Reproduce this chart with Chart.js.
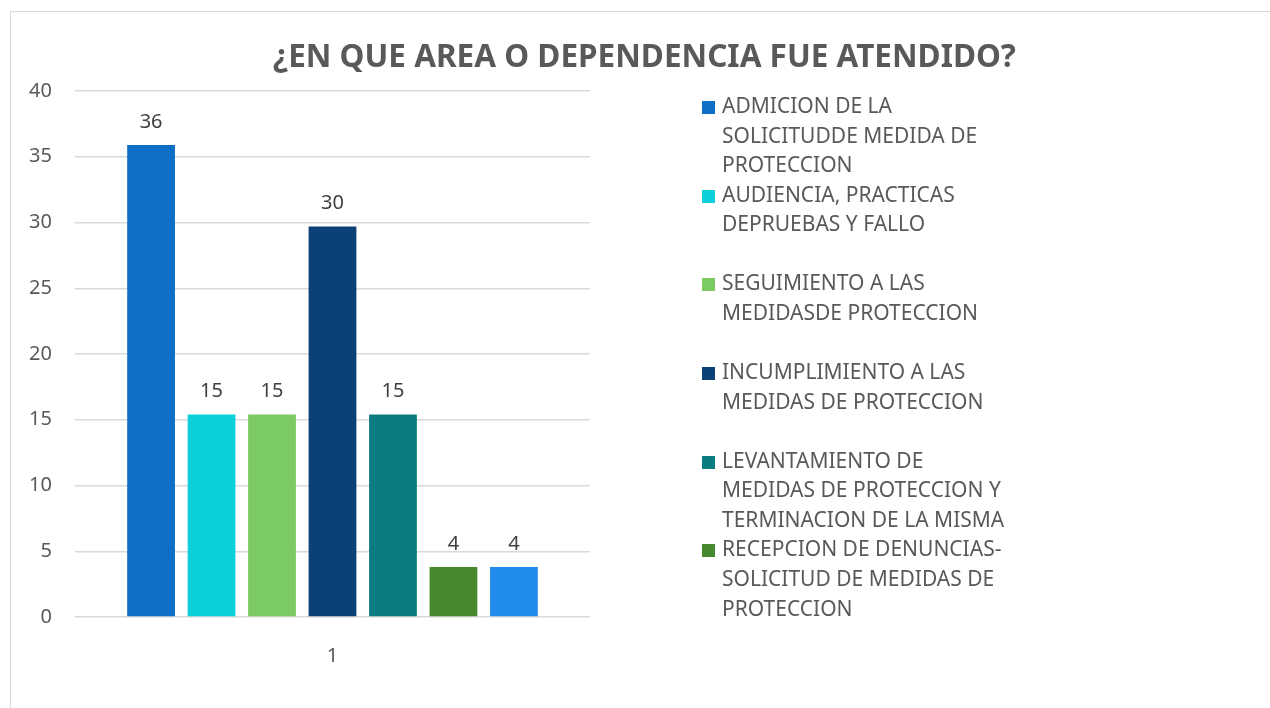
<!DOCTYPE html>
<html>
<head>
<meta charset="utf-8">
<script src="https://cdn.jsdelivr.net/npm/chart.js@4/dist/chart.umd.min.js"></script>
<style>
  html, body { margin: 0; padding: 0; background: #fff; }
  body { width: 1270px; height: 708px; position: relative; overflow: hidden; font-family: "Noto Sans", sans-serif; }
  .frame { position: absolute; left: 10px; top: 11px; width: 1400px; height: 900px; border: 1px solid #d9d9d9; }
  #wrap { position: absolute; left: 0; top: 0; width: 1270px; height: 708px; }
  #title { position: absolute; left: 0; top: 35px; width: 1289px; text-align: center; font-size: 31.5px; font-weight: bold; line-height: 40px; color: #595959; white-space: nowrap; }
  #legend { position: absolute; left: 702px; top: 91px; width: 400px; }
  .item { position: relative; height: 88.7px; }
  .box { position: absolute; left: 0; top: 10px; width: 13px; height: 13px; }
  .txt { position: absolute; left: 20px; top: 0; font-size: 21px; line-height: 29.6px; color: #595959; white-space: pre; }
</style>
</head>
<body>
<div class="frame"></div>
<div id="wrap"><canvas id="chart" width="1270" height="708"></canvas></div>
<div id="title"></div>
<div id="legend"></div>
<script>
// chart data
const chartTitle = "¿EN QUE AREA O DEPENDENCIA FUE ATENDIDO?"
const categories = ["1"]
const seriesNames = [
  "ADMICION DE LA\nSOLICITUDDE MEDIDA DE\nPROTECCION",
  "AUDIENCIA, PRACTICAS\nDEPRUEBAS Y FALLO",
  "SEGUIMIENTO A LAS\nMEDIDASDE PROTECCION",
  "INCUMPLIMIENTO A LAS\nMEDIDAS DE PROTECCION",
  "LEVANTAMIENTO DE\nMEDIDAS DE PROTECCION Y\nTERMINACION DE LA MISMA",
  "RECEPCION DE DENUNCIAS-\nSOLICITUD DE MEDIDAS DE\nPROTECCION",
  "",
]
const seriesValues = [35.9, 15.4, 15.4, 29.7, 15.4, 3.8, 3.8]
const seriesColors = ["#0F6FC6", "#0BD0D9", "#7CCA62", "#0C4178", "#0A7C82", "#46882D", "#228CEC"]
const yTicks = [0, 5, 10, 15, 20, 25, 30, 35, 40]

const textColor = "#595959"

document.getElementById("title").textContent = chartTitle

// value labels above each bar
const barLabels = {
  id: "barLabels",
  afterDatasetsDraw(chart) {
    const { ctx } = chart
    ctx.save()
    ctx.font = "20px 'Noto Sans'"
    ctx.fillStyle = "#404040"
    ctx.textAlign = "center"
    ctx.textBaseline = "middle"
    chart.data.datasets.forEach((ds, i) => {
      chart.getDatasetMeta(i).data.forEach((bar, j) => {
        ctx.fillText(Math.round(ds.data[j]), bar.x, bar.y - 23)
      })
    })
    ctx.restore()
  },
}

const ctx = document.getElementById("chart").getContext("2d")
const chart = new Chart(ctx, {
  type: "bar",
  data: {
    labels: categories,
    datasets: seriesNames.map((name, i) => ({
      label: name,
      data: [seriesValues[i]],
      backgroundColor: seriesColors[i],
      categoryPercentage: 0.822,
      barPercentage: 0.79,
    })),
  },
  options: {
    responsive: false,
    animation: false,
    layout: { padding: { left: 10, top: 91, right: 680, bottom: 0 } },
    scales: {
      x: {
        grid: { display: false },
        border: { display: false },
        ticks: { color: textColor, font: { family: "Noto Sans", size: 20 }, padding: 19 },
        afterFit: (scale) => { scale.height = 91 },
      },
      y: {
        min: 0,
        max: 40,
        afterBuildTicks: (scale) => { scale.ticks = yTicks.map((v) => ({ value: v })) },
        grid: { color: "#d9d9d9", lineWidth: 1.5, drawTicks: false },
        border: { display: false },
        ticks: { color: textColor, font: { family: "Noto Sans", size: 20 }, padding: 23 },
        afterFit: (scale) => { scale.width = 65 },
      },
    },
    plugins: {
      legend: { display: false },
      tooltip: { enabled: false },
    },
  },
  plugins: [barLabels],
})

// legend drawn as html so the names can wrap like the original
// (only six entries fit in the original legend box)
const legendEl = document.getElementById("legend")
seriesNames.slice(0, 6).forEach((name, i) => {
  const item = document.createElement("div")
  item.className = "item"
  item.innerHTML = `<span class="box" style="background:${seriesColors[i]}"></span><span class="txt"></span>`
  item.querySelector(".txt").textContent = name
  legendEl.appendChild(item)
})
</script>
</body>
</html>
